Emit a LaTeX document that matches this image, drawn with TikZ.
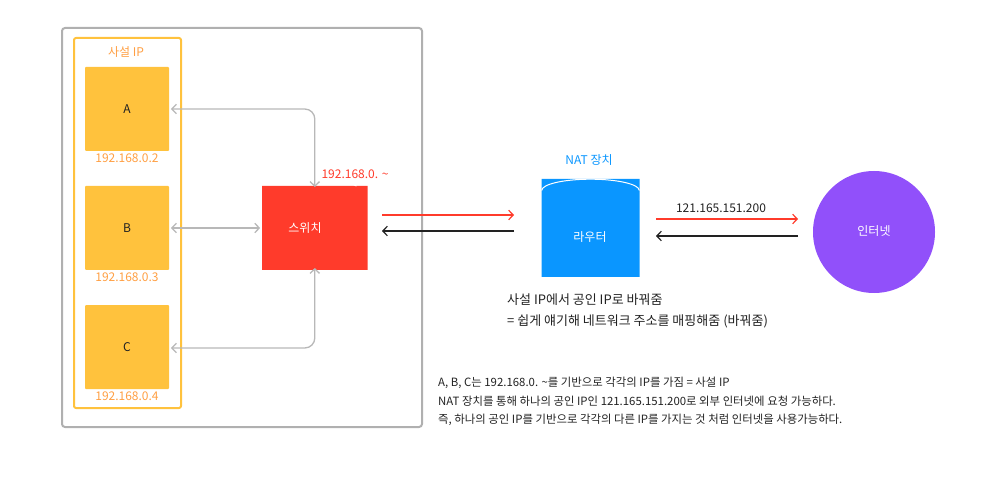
\documentclass[tikz,border=0pt]{standalone}
\usepackage{fontspec}
\setmainfont{Noto Sans CJK KR}
\usetikzlibrary{arrows.meta,shapes.geometric}
\definecolor{boxgray}{HTML}{B0B0B0}
\definecolor{hostyellow}{HTML}{FFC23D}
\definecolor{iporange}{HTML}{FF9F43}
\definecolor{switchred}{HTML}{FF3B2B}
\definecolor{natblue}{HTML}{0A96FF}
\definecolor{netpurple}{HTML}{9150FA}
\definecolor{inkblack}{HTML}{222222}
\tikzset{
	host/.style={rectangle, fill=hostyellow, rounded corners=1, minimum size=84, inner sep=0, outer sep=0, text=inkblack},
	iplabel/.style={text=iporange, inner sep=0},
	plain/.style={text=inkblack, inner sep=0},
	note/.style={text=inkblack, inner sep=0, anchor=west, font=\fontsize{11.4}{13}\selectfont},
	link/.style={draw=boxgray!90, line width=1.3, <->, rounded corners=10},
	outgoing/.style={draw=switchred, line width=1.2, ->},
	incoming/.style={draw=inkblack, line width=1.2, ->}
}
\begin{document}
\begin{tikzpicture}[x=1pt, y=-1pt, font=\fontsize{12}{14}\selectfont, line join=round, >={Straight Barb[length=4.5, width=9.5]}]
	\useasboundingbox (0,0) rectangle (999,481);
	\draw[boxgray, line width=2, rounded corners=3] (62,28) rectangle (422,427);
	\draw[hostyellow, line width=2, rounded corners=2] (74,38) rectangle (181,408);
	\node[iplabel] (private) at (126,52) {사설 IP};
	\node[host] (A) at (127,109) {A};
	\node[host] (B) at (127,228) {B};
	\node[host] (C) at (127,347) {C};
	\node[iplabel] (ipA) at (127,158) {192.168.0.2};
	\node[iplabel] (ipB) at (127,277) {192.168.0.3};
	\node[iplabel] (ipC) at (127,396) {192.168.0.4};
	% switch
	\node[cylinder, fill=switchred, aspect=0.25, minimum width=84, minimum height=105.5, inner sep=0, outer sep=0] (switch) at (314.8,228) {};
	\draw[white, line width=1] (356.5,186) arc [start angle=90, end angle=270, x radius=10.5, y radius=42];
	\node[text=white, inner sep=0] (switchtext) at (305,228) {스위치};
	\node[text=switchred, inner sep=0] (switchip) at (355,174) {192.168.0. \textasciitilde};
	\draw[link] (A.east) ++(2,0) coordinate (Aend) -| ([yshift=-1]switch.north);
	\draw[link] ([xshift=2]B.east) -- ([xshift=-2]switch.west);
	\draw[link] ([xshift=2,yshift=-1]C.east) -| ([yshift=2]switch.south);
	% router
	\node[cylinder, shape border rotate=90, fill=natblue, aspect=4.3, minimum width=98, minimum height=98, inner sep=0, outer sep=0] (router) at (590.5,228) {};
	\draw[white, line width=1] (541.7,190.5) arc [start angle=180, end angle=360, x radius=48.8, y radius=11.3];
	\node[text=white, inner sep=0] (routertext) at (590,237) {라우터};
	\node[text=natblue, inner sep=0] (nat) at (589,160) {NAT 장치};
	% internet
	\node[circle, fill=netpurple, minimum size=122, inner sep=0, outer sep=0] (internet) at (874,232) {};
	\node[text=white, inner sep=0] (internettext) at (874,231) {인터넷};
	% traffic
	\coordinate (swout) at (382,215);
	\coordinate (swin) at (382,231);
	\coordinate (rtin) at (514,215);
	\coordinate (rtback) at (514,231);
	\coordinate (rtout) at (656,219);
	\coordinate (rtret) at (656,236);
	\coordinate (netin) at (798,219);
	\coordinate (netback) at (798,236);
	\draw[outgoing] (swout) -- (rtin);
	\draw[incoming] (rtback) -- (swin);
	\draw[outgoing] (rtout) -- (netin);
	\draw[incoming] (netback) -- (rtret);
	\node[plain] (publicip) at (721,208) {121.165.151.200};
	% notes
	\node[plain, anchor=west, font=\fontsize{13}{15}\selectfont] (swap) at (507,300) {사설 IP에서 공인 IP로 바꿔줌};
	\node[plain, anchor=west, font=\fontsize{13}{15}\selectfont] (mapping) at (507,321) {= 쉽게 얘기해 네트워크 주소를 매핑해줌 (바꿔줌)};
	\node[note] (noteA) at (438,383) {A, B, C는 192.168.0. \textasciitilde{}를 기반으로 각각의 IP를 가짐 = 사설 IP};
	\node[note] (noteB) at (438,401) {NAT 장치를 통해 하나의 공인 IP인 121.165.151.200로 외부 인터넷에 요청 가능하다.};
	\node[note] (noteC) at (438,420) {즉, 하나의 공인 IP를 기반으로 각각의 다른 IP를 가지는 것 처럼 인터넷을 사용가능하다.};
\end{tikzpicture}
\end{document}
